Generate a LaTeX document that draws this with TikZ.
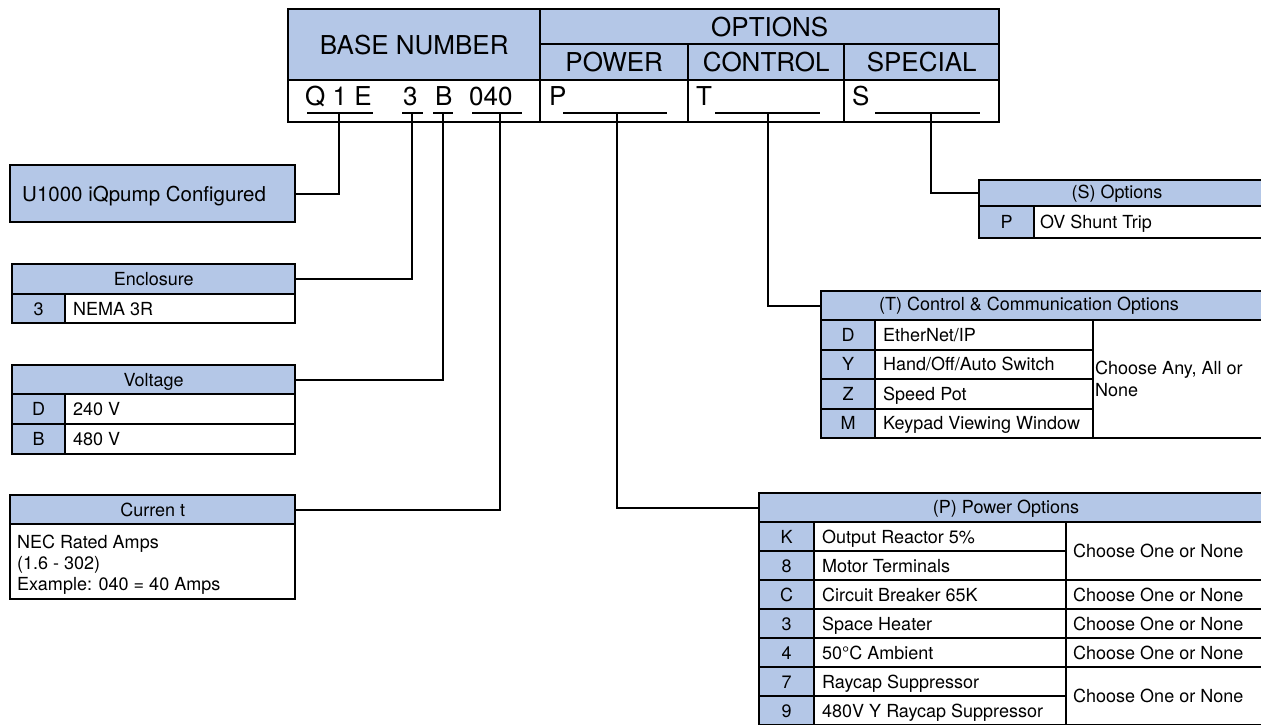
\documentclass[tikz,border=0pt]{standalone}
\usepackage{fontspec}
\setmainfont{TeX Gyre Heros}
\usetikzlibrary{positioning, calc}
\definecolor{iqblue}{RGB}{180,199,231}
\tikzset{
	cell/.style={draw, line width=2.4pt, inner sep=0pt, anchor=north west},
	bluecell/.style={cell, fill=iqblue},
	whitecell/.style={cell, fill=white},
	big/.style={font=\fontsize{26}{30}\selectfont, text height=18.7pt, text depth=0pt},
	small/.style={font=\fontsize{18}{21}\selectfont, text height=12.9pt, text depth=0pt},
	cfgfont/.style={font=\fontsize{20.5}{24}\selectfont, text height=14.7pt, text depth=0pt},
	txt/.style={inner sep=0pt},
	wire/.style={line width=2.4pt}
}

\begin{document}
\begin{tikzpicture}[x=1pt,y=-1pt]
	\path[use as bounding box, fill=white] (0,0) rectangle (1261,724);

	% model number header
	\node[bluecell, big, minimum width=252pt, minimum height=71pt] (basehd) at (287,8) {BASE NUMBER};
	\node[bluecell, big, minimum width=459pt, minimum height=35pt] (opthd) at (539,8) {OPTIONS};
	\node[bluecell, big, minimum width=148pt, minimum height=36pt] (powerhd) at (539,43) {POWER};
	\node[bluecell, big, minimum width=156pt, minimum height=36pt] (controlhd) at (687,43) {CONTROL};
	\node[bluecell, big, minimum width=155pt, minimum height=36pt] (specialhd) at (843,43) {SPECIAL};
	\node[whitecell, minimum width=252pt, minimum height=42pt] (basecode) at (287,79) {};
	\node[whitecell, minimum width=148pt, minimum height=42pt] (powercode) at (539,79) {};
	\node[whitecell, minimum width=156pt, minimum height=42pt] (controlcode) at (687,79) {};
	\node[whitecell, minimum width=155pt, minimum height=42pt] (specialcode) at (843,79) {};

	\node[txt, big, anchor=base west] (cq) at (305,105) {Q 1 E};
	\node[txt, big, anchor=base west] (c3) at (403,105) {3};
	\node[txt, big, anchor=base west] (cb) at (435,105) {B};
	\node[txt, big, anchor=base west] (ca) at (469,105) {040};
	\node[txt, big, anchor=base west] (cp) at (549,105) {P};
	\node[txt, big, anchor=base west] (ct) at (696,105) {T};
	\node[txt, big, anchor=base west] (cs) at (852,105) {S};

	\foreach \a/\b in {307/373, 402/423, 433/453, 472/522, 563/667, 715/820, 875/980}
		\draw[wire] (\a,113) -- (\b,113);

	\coordinate (uq) at (339,113);
	\coordinate (u3) at (412,113);
	\coordinate (ub) at (443,113);
	\coordinate (ua) at (500,113);
	\coordinate (up) at (617,113);
	\coordinate (ut) at (768,113);
	\coordinate (us) at (931,113);

	% left boxes
	\node[bluecell, minimum width=285pt, minimum height=57pt] (cfg) at (9,164) {};
	\node[txt, cfgfont, anchor=west] (cfgtxt) at ([xshift=13pt]cfg.west) {U1000 iQpump Configured};

	\node[bluecell, small, minimum width=283pt, minimum height=30pt] (enchd) at (11,263) {Enclosure};
	\node[bluecell, small, minimum width=53pt, minimum height=29pt] (enc3) at (11,293) {3};
	\node[whitecell, minimum width=230pt, minimum height=29pt] (enc3d) at (64,293) {};
	\node[txt, small, anchor=west] (enc3t) at ([xshift=9pt]enc3d.west) {NEMA 3R};

	\node[bluecell, small, minimum width=283pt, minimum height=29pt] (volthd) at (11,364) {Voltage};
	\node[bluecell, small, minimum width=53pt, minimum height=30pt] (voltd) at (11,393) {D};
	\node[whitecell, minimum width=230pt, minimum height=30pt] (voltdd) at (64,393) {};
	\node[txt, small, anchor=west] (voltdt) at ([xshift=9pt]voltdd.west) {240 V};
	\node[bluecell, small, minimum width=53pt, minimum height=30pt] (voltb) at (11,423) {B};
	\node[whitecell, minimum width=230pt, minimum height=30pt] (voltbd) at (64,423) {};
	\node[txt, small, anchor=west] (voltbt) at ([xshift=9pt]voltbd.west) {480 V};

	\node[bluecell, small, minimum width=285pt, minimum height=29pt] (curhd) at (9,494) {Curren t};
	\node[whitecell, minimum width=285pt, minimum height=75pt] (curbody) at (9,523) {};
	\node[txt, small, anchor=base west] (curl1) at (17,548.5) {NEC Rated Amps};
	\node[txt, small, anchor=base west] (curl2) at (17,569.5) {(1.6 - 302)};
	\node[txt, small, anchor=base west] (curl3) at (17,590.5) {Example: 040 = 40 Amps};

	% (S) options
	\node[bluecell, minimum width=290pt, minimum height=26pt] (shd) at (978,179) {};
	\node[txt, small] (shdt) at (1117,192) {(S) Options};
	\node[bluecell, small, minimum width=55pt, minimum height=32pt] (sc1) at (978,205) {P};
	\node[whitecell, minimum width=240pt, minimum height=32pt] (sd1) at (1033,205) {};
	\node[txt, small, anchor=west] (st1) at ([xshift=7pt]sd1.west) {OV Shunt Trip};

	% (T) options
	\node[bluecell, minimum width=450pt, minimum height=29pt] (thd) at (820,290) {};
	\node[txt, small] (thdt) at (1029,304.5) {(T) Control \& Communication Options};
	\foreach \code/\desc [count=\i] in {D/{EtherNet/IP}, Y/{Hand/Off/Auto Switch}, Z/Speed Pot, M/Keypad Viewing Window} {
		\node[bluecell, small, minimum width=54pt, minimum height=29.5pt] (tc\i) at (820,289.5+29.5*\i) {\code};
		\node[whitecell, minimum width=218pt, minimum height=29.5pt] (td\i) at (874,289.5+29.5*\i) {};
		\node[txt, small, anchor=west] (tt\i) at ([xshift=9pt]td\i.west) {\desc};
	}
	\node[whitecell, minimum width=180pt, minimum height=118pt] (tany) at (1092,319) {};
	\node[txt, small, anchor=base west] (tany1) at (1095,374.8) {Choose Any, All or};
	\node[txt, small, anchor=base west] (tany2) at (1095,396.5) {None};

	% (P) options
	\node[bluecell, minimum width=510pt, minimum height=29pt] (phd) at (758,492) {};
	\node[txt, small] (phdt) at (1006,507) {(P) Power Options};
	\foreach \code/\desc [count=\i] in {K/Output Reactor 5\%, 8/Motor Terminals, C/Circuit Breaker 65K, 3/Space Heater, 4/50°C Ambient, 7/Raycap Suppressor, 9/480V Y Raycap Suppressor} {
		\node[bluecell, small, minimum width=55pt, minimum height=29pt] (pc\i) at (758,492+29*\i) {\code};
		\node[whitecell, minimum width=252pt, minimum height=29pt] (pd\i) at (813,492+29*\i) {};
		\node[txt, small, anchor=west] (pt\i) at ([xshift=9pt]pd\i.west) {\desc};
	}
	\node[whitecell, minimum width=200pt, minimum height=58pt] (pone1) at (1065,521) {};
	\node[whitecell, minimum width=200pt, minimum height=29pt] (pone2) at (1065,579) {};
	\node[whitecell, minimum width=200pt, minimum height=29pt] (pone3) at (1065,608) {};
	\node[whitecell, minimum width=200pt, minimum height=29pt] (pone4) at (1065,637) {};
	\node[whitecell, minimum width=200pt, minimum height=58pt] (pone5) at (1065,666) {};
	\foreach \i in {1,...,5}
		\node[txt, small, anchor=west] (ponet\i) at ([xshift=8pt]pone\i.west) {Choose One or None};

	% connectors
	\draw[wire] (uq) |- (cfg.east);
	\draw[wire] (u3) |- (enchd.east);
	\draw[wire] (ub) |- (volthd.east);
	\draw[wire] (ua) |- (curhd.east);
	\draw[wire] (up) |- (phd.west);
	\draw[wire] (ut) |- (thd.west);
	\draw[wire] (us) |- (shd.west);
\end{tikzpicture}
\end{document}
